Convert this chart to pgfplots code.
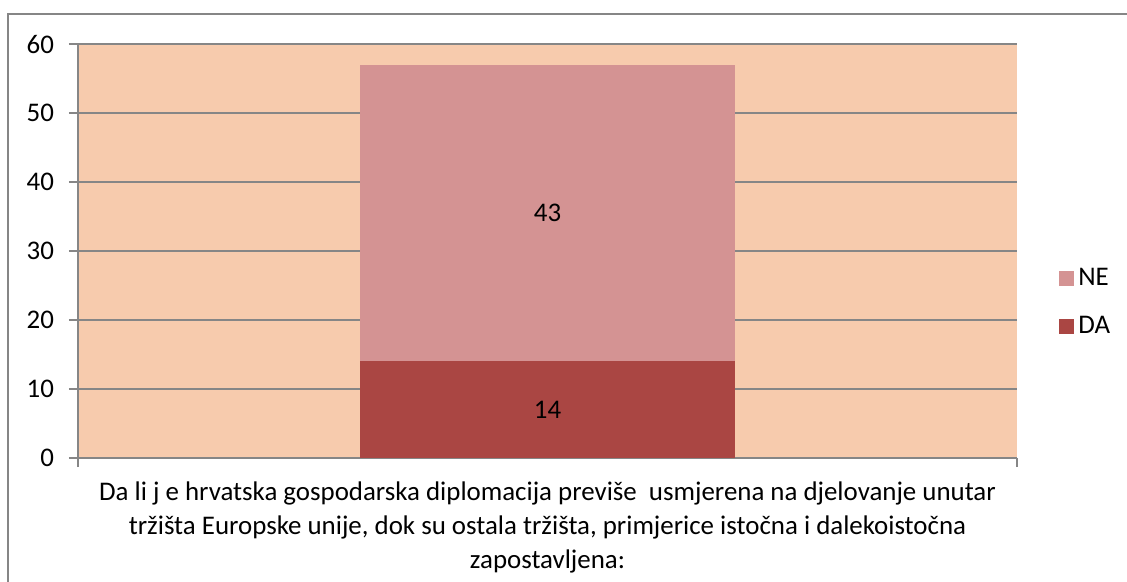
\documentclass[border=0pt]{standalone}
\usepackage{fontspec}
\setmainfont{Carlito}
\usepackage{pgfplots}
\pgfplotsset{compat=1.18}

\definecolor{plotbg}{RGB}{247,203,173}
\definecolor{daRed}{RGB}{170,70,67}
\definecolor{nePink}{RGB}{212,147,147}
\definecolor{axgray}{RGB}{134,134,134}

\newcommand\chartfont{\fontsize{13.5}{16.5}\selectfont}

\begin{document}
\begin{tikzpicture}
% page = 1127 x 582 px at 0.5bp per px
\useasboundingbox (0bp,0bp) rectangle (563.5bp,-291bp);
\draw[axgray, line width=0.8bp] (4bp,-300bp) -- (4bp,-7bp) -- (600bp,-7bp);
\begin{axis}[
  at={(39bp,-229bp)}, anchor=south west,
  width=469.5bp, height=207bp, scale only axis,
  ybar stacked, bar width=1,
  xmin=-1.25, xmax=1.25,
  ymin=0, ymax=60, ytick={0,10,...,60},
  xtick={-1.25,1.25}, xticklabels={},
  axis background/.style={fill=plotbg},
  axis line style={axgray, line width=0.8bp},
  axis x line*=bottom, axis y line*=left,
  ymajorgrids, grid style={axgray, line width=0.8bp},
  tick style={axgray, line width=0.8bp},
  major tick length=4.5bp, tick align=outside,
  font=\chartfont,
  yticklabel style={font=\chartfont, xshift=-4bp},
  /pgf/number format/assume math mode=true,
  xlabel={Da li j e hrvatska gospodarska diplomacija previše\ \ usmjerena na djelovanje unutar\\[0.6bp]tržišta Europske unije, dok su ostala tržišta, primjerice istočna i dalekoistočna\\[0.6bp]zapostavljena:},
  xlabel style={at={(axis description cs:0.5,-0.168)}, anchor=center, align=center,
    font=\fontsize{13.5}{16.5}\selectfont},
  legend style={at={(1.0447,0.3756)}, anchor=west, draw=none, fill=none,
    inner sep=0pt, row sep=10bp, font=\chartfont, cells={anchor=west}},
  legend image code/.code={\fill[#1] (0bp,-3.75bp) rectangle (7.5bp,3.75bp);},
  reverse legend,
]
\addplot[fill=daRed, draw=none] coordinates {(0,14)};
\addlegendentry{DA}
\addplot[fill=nePink, draw=none] coordinates {(0,43)};
\addlegendentry{NE}
\coordinate (daMid) at (axis cs:0,7);
\coordinate (neMid) at (axis cs:0,35.5);
\end{axis}
\node[font=\chartfont] at (daMid) {14};
\node[font=\chartfont] at (neMid) {43};
\end{tikzpicture}
\end{document}
